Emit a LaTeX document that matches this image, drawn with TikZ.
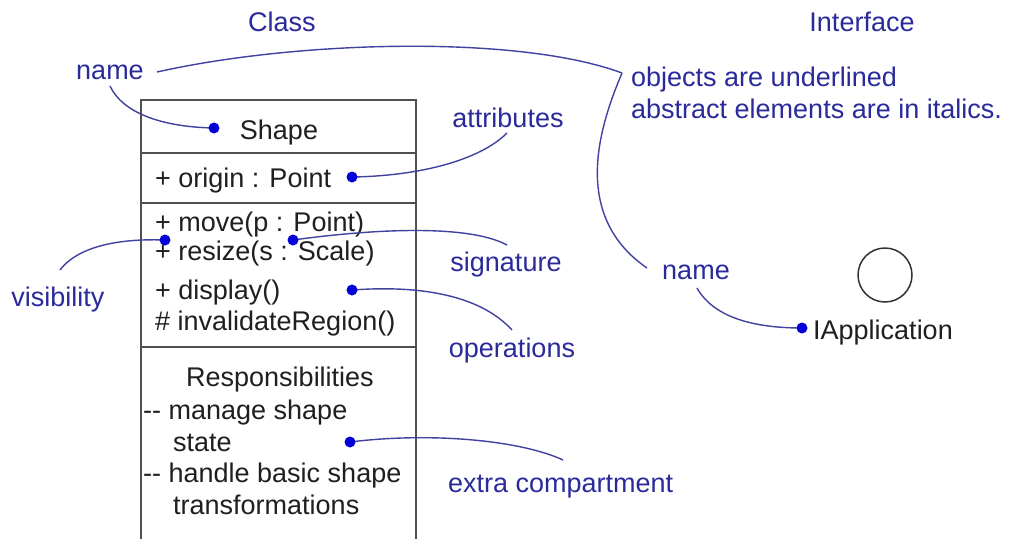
\documentclass[tikz,border=0pt]{standalone}
\usepackage{fontspec}
\setmainfont{Liberation Sans}
\definecolor{lblue}{RGB}{42,42,155}
\definecolor{cblue}{RGB}{65,65,160}
\definecolor{dblue}{RGB}{0,0,215}
\definecolor{boxgray}{RGB}{80,80,80}
\begin{document}
\begin{tikzpicture}[x=1pt,y=-1pt,
  txt/.style={font=\fontsize{27}{32}\selectfont, inner sep=0pt, text height=19pt, text depth=0pt},
  blab/.style={txt, text=lblue},
  blk/.style={txt, text=black!88},
  conn/.style={draw=cblue, line width=1.4pt},
  dotn/.style={circle, fill=dblue, inner sep=0pt, minimum size=11pt},
  boxline/.style={draw=boxgray, line width=1.8pt},
  ifc/.style={circle, draw=black!80, line width=1.5pt, inner sep=0pt, minimum size=54pt}]
\useasboundingbox (0,0) rectangle (1010,539);
\fill[white] (0,0) rectangle (1010,539);

% class box
\draw[boxline] (141,539) -- (141,100) -- (416,100) -- (416,539);
\draw[boxline] (141,153) -- (416,153);
\draw[boxline] (141,203) -- (416,203);
\draw[boxline] (141,347) -- (416,347);

% headings
\node[blab] (hclass) at (282,22) {Class};
\node[blab] (hiface) at (862,22) {Interface};

% class texts
\node[blk] (tshape) at (279,130) {Shape};
\node[blk, anchor=west] (torigin) at (155,178) {+ origin : Point};
\node[blk, anchor=west] (tmove) at (155,222) {+ move(p : Point)};
\node[blk, anchor=west] (tresize) at (155,251) {+ resize(s : Scale)};
\node[blk, anchor=west] (tdisplay) at (155,290) {+ display()};
\node[blk, anchor=west] (tinval) at (155,321) {\# invalidateRegion()};
\node[blk] (tresp) at (280,377) {Responsibilities};
\node[blk, anchor=west] (tr1) at (143,410) {-{}- manage shape};
\node[blk, anchor=west] (tr2) at (173,442) {state};
\node[blk, anchor=west] (tr3) at (143,473) {-{}- handle basic shape};
\node[blk, anchor=west] (tr4) at (173,505) {transformations};

% interface
\node[ifc] (iface) at (885,275) {};
\node[blk, anchor=west] (tiapp) at (813,330) {IApplication};

% blue labels
\node[blab] (lnameL) at (110,70) {name};
\node[blab] (lattr) at (508,118) {attributes};
\node[blab] (lsig) at (506,262) {signature};
\node[blab] (lops) at (512,348) {operations};
\node[blab, anchor=west] (lextra) at (448,483) {extra compartment};
\node[blab] (lvis) at (58,297) {visibility};
\node[blab, anchor=west] (lobj1) at (631,77) {objects are underlined};
\node[blab, anchor=west] (lobj2) at (631,109) {abstract elements are in italics.};
\node[blab] (lnameR) at (696,270) {name};

% connector end points
\coordinate (knk) at (622,73);
\coordinate (aNameL1) at (110,86);
\coordinate (aNameL2) at (157,72);
\coordinate (aNameR) at (647,268);
\coordinate (aNameR2) at (697,288);
\coordinate (aAttr) at (507,133);
\coordinate (aSig) at (507,245);
\coordinate (aOps) at (512,330);
\coordinate (aVis) at (60,270);
\coordinate (aExtra) at (563,460);

\coordinate (pShape) at (214,128);
\coordinate (pOrigin) at (352,177);
\coordinate (pVis) at (165,240);
\coordinate (pSig) at (293,240);
\coordinate (pOps) at (352,290);
\coordinate (pExtra) at (350,442);
\coordinate (pIapp) at (802,328);

% connectors
\draw[conn] (aNameL1) .. controls (122,112) and (160,127) .. (pShape);
\draw[conn] (aNameL2) .. controls (300,40) and (520,35) .. (knk);
\draw[conn] (aNameR) .. controls (570,215) and (600,125) .. (knk);
\draw[conn] (pOrigin) .. controls (420,176) and (480,160) .. (aAttr);
\draw[conn] (pSig) .. controls (380,228) and (470,225) .. (aSig);
\draw[conn] (pOps) .. controls (420,285) and (480,295) .. (aOps);
\draw[conn] (pVis) .. controls (110,238) and (75,250) .. (aVis);
\draw[conn] (pExtra) .. controls (430,432) and (520,440) .. (aExtra);
\draw[conn] (aNameR2) .. controls (715,320) and (760,328) .. (pIapp);

% dots
\node[dotn] (dShape) at (pShape) {};
\node[dotn] (dOrigin) at (pOrigin) {};
\node[dotn] (dVis) at (pVis) {};
\node[dotn] (dSig) at (pSig) {};
\node[dotn] (dOps) at (pOps) {};
\node[dotn] (dExtra) at (pExtra) {};
\node[dotn] (dIapp) at (pIapp) {};
\end{tikzpicture}
\end{document}
